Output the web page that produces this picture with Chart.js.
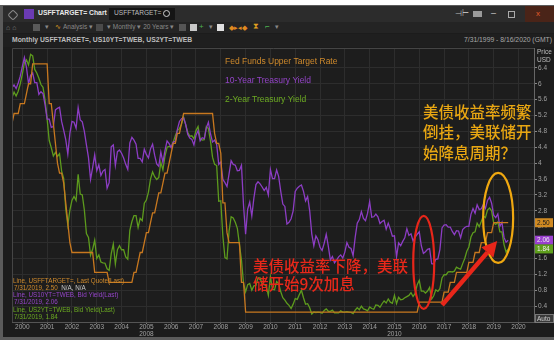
<!DOCTYPE html>
<html>
<head>
<meta charset="utf-8">
<script src="https://cdn.jsdelivr.net/npm/chart.js@4.4.0/dist/chart.umd.min.js"></script>
<style>
html,body{margin:0;padding:0;background:#fff;}
#wrap{position:relative;width:554px;height:346px;overflow:hidden;background:#fff;font-family:"Liberation Sans",Arial,sans-serif;}
#frame{position:absolute;left:0;top:5px;width:554px;height:335px;background:#5b5b5b;}
#win{position:absolute;left:3px;top:6px;width:551px;height:331px;background:#1c1c1c;}
#titlebar{position:absolute;left:3px;top:6px;width:551px;height:16px;background:#2c2c2c;}
#toolbar{position:absolute;left:3px;top:22px;width:551px;height:11px;background:#242424;}
#header{position:absolute;left:3px;top:34px;width:551px;height:13px;background:#1f1f1f;}
.t{position:absolute;white-space:nowrap;line-height:1;}
.box{position:absolute;}
canvas{position:absolute;left:0;top:0;}
</style>
</head>
<body>
<div id="wrap">
  <div id="frame"></div>
  <div id="win"></div>
  <div id="titlebar">
    <div class="box" style="left:6px;top:5px;width:6px;height:6px;border:1px solid #8a8a8a;border-radius:2px;transform:rotate(45deg);"></div>
    <div class="box" style="left:21px;top:3px;width:10px;height:10px;background:#6b3bb4;"></div>
    <div class="t" style="left:35px;top:4px;font-size:6.8px;font-weight:bold;color:#e8e8e8;">USFFTARGET= Chart</div>
    <div class="box" style="left:106px;top:2px;width:66px;height:12px;background:#151515;"></div>
    <div class="t" style="left:111px;top:4px;font-size:6.6px;color:#bdbdbd;">USFFTARGET=</div>
    <div class="box" style="left:160px;top:4px;width:5px;height:5px;border:1.3px solid #d0d0d0;border-radius:50%;"></div>
    <div class="t" style="left:452px;top:4px;font-size:8px;color:#bbb;">⊣⊢</div>
    <div class="box" style="left:470px;top:5px;width:9px;height:6px;background:#9a9a9a;"></div>
    <div class="t" style="left:488px;top:3px;font-size:9px;color:#ccc;">–</div>
    <div class="box" style="left:505px;top:5px;width:5px;height:5px;border:1px solid #aaa;"></div>
    <div class="box" style="left:522px;top:0px;width:29px;height:16px;background:#4a2418;"></div>
    <div class="t" style="left:533px;top:4px;font-size:8px;color:#e05a2a;">x</div>
  </div>
  <div id="toolbar">
    <div class="t" style="left:3px;top:2px;font-size:7px;color:#777;">⌂ ⌂</div>
    <div class="box" style="left:30px;top:2px;width:7px;height:7px;background:#5a5a5a;"></div>
    <div class="t" style="left:42px;top:2px;font-size:6.5px;color:#888;">▾</div>
    <div class="t" style="left:52px;top:2px;font-size:6.5px;color:#e0a020;">∿</div>
    <div class="t" style="left:60px;top:2px;font-size:6.5px;color:#888;">Analysis ▾</div>
    <div class="box" style="left:93px;top:2px;width:7px;height:7px;background:#4a4a4a;"></div>
    <div class="t" style="left:104px;top:2px;font-size:6.5px;color:#888;">▾ Monthly ▾ 20 Years ▾</div>
    <div class="box" style="left:176px;top:2px;width:7px;height:7px;background:#555;"></div>
    <div class="box" style="left:187px;top:2px;width:7px;height:7px;background:#c8c8c8;"></div>
    <div class="t" style="left:196px;top:1px;font-size:8px;color:#4caf50;">+</div>
    <div class="t" style="left:206px;top:2px;font-size:6.5px;color:#888;">▾</div>
    <div class="box" style="left:214px;top:2px;width:7px;height:7px;background:#e0e0e0;"></div>
    <div class="t" style="left:226px;top:2px;font-size:7px;color:#e08a20;">◆▸◂◆</div>
    <div class="t" style="left:250px;top:1px;font-size:8px;color:#e0a020;">⧗</div>
    <div class="t" style="left:262px;top:1px;font-size:8px;color:#4caf50;">⌐</div>
    <div class="t" style="left:272px;top:2px;font-size:6.5px;color:#888;">▾</div>
  </div>
  <div id="header">
    <div class="t" style="left:9px;top:3px;font-size:6.8px;font-weight:bold;color:#bdbdbd;">Monthly USFFTARGET=, US10YT=TWEB, US2YT=TWEB</div>
    <div class="t" style="right:2px;top:3px;font-size:6.8px;color:#a8a8a8;">7/31/1999 - 8/16/2020 (GMT)</div>
  </div>
  <canvas id="c" width="554" height="346"></canvas>
</div>
<script>
// Monthly series, July 1999 through July 2019 (month-end values, %)
const firstYear = 1999;
const firstMonth = 7;

const fedFundsUpper = [
  5.00,5.25,5.25,5.25,5.50,5.50,
  5.50,5.75,6.00,6.00,6.50,6.50,6.50,6.50,6.50,6.50,6.50,6.50,
  5.50,5.50,5.00,4.50,4.00,3.75,3.75,3.50,3.00,2.50,2.00,1.75,
  1.75,1.75,1.75,1.75,1.75,1.75,1.75,1.75,1.75,1.75,1.25,1.25,
  1.25,1.25,1.25,1.25,1.25,1.00,1.00,1.00,1.00,1.00,1.00,1.00,
  1.00,1.00,1.00,1.00,1.00,1.25,1.25,1.50,1.75,1.75,2.00,2.25,
  2.25,2.50,2.75,2.75,3.00,3.25,3.25,3.50,3.75,3.75,4.00,4.25,
  4.50,4.50,4.75,4.75,5.00,5.25,5.25,5.25,5.25,5.25,5.25,5.25,
  5.25,5.25,5.25,5.25,5.25,5.25,5.25,5.25,4.75,4.50,4.50,4.25,
  3.00,3.00,2.25,2.00,2.00,2.00,2.00,2.00,2.00,1.00,1.00,0.25,
  0.25,0.25,0.25,0.25,0.25,0.25,0.25,0.25,0.25,0.25,0.25,0.25,
  0.25,0.25,0.25,0.25,0.25,0.25,0.25,0.25,0.25,0.25,0.25,0.25,
  0.25,0.25,0.25,0.25,0.25,0.25,0.25,0.25,0.25,0.25,0.25,0.25,
  0.25,0.25,0.25,0.25,0.25,0.25,0.25,0.25,0.25,0.25,0.25,0.25,
  0.25,0.25,0.25,0.25,0.25,0.25,0.25,0.25,0.25,0.25,0.25,0.25,
  0.25,0.25,0.25,0.25,0.25,0.25,0.25,0.25,0.25,0.25,0.25,0.25,
  0.25,0.25,0.25,0.25,0.25,0.25,0.25,0.25,0.25,0.25,0.25,0.50,
  0.50,0.50,0.50,0.50,0.50,0.50,0.50,0.50,0.50,0.50,0.50,0.75,
  0.75,0.75,1.00,1.00,1.00,1.25,1.25,1.25,1.25,1.25,1.25,1.50,
  1.50,1.50,1.75,1.75,1.75,2.00,2.00,2.00,2.25,2.25,2.25,2.50,
  2.50,2.50,2.50,2.50,2.50,2.50,2.50
];

const tenYearYield = [
  5.90,5.97,5.88,6.02,6.19,6.44,
  6.66,6.41,6.00,6.21,6.27,6.03,6.03,5.73,5.80,5.75,5.47,5.11,
  5.11,4.90,4.92,5.34,5.38,5.41,5.05,4.83,4.59,4.23,4.75,5.05,
  5.03,4.88,5.40,5.09,5.04,4.80,4.46,4.14,3.59,3.89,4.21,3.81,
  3.96,3.69,3.80,3.84,3.37,3.51,4.41,4.46,3.94,4.29,4.33,4.25,
  4.13,3.97,3.84,4.51,4.65,4.58,4.48,4.12,4.12,4.03,4.35,4.22,
  4.13,4.36,4.48,4.20,3.98,3.92,4.28,4.02,4.32,4.56,4.49,4.39,
  4.53,4.55,4.85,5.05,5.12,5.14,4.98,4.73,4.63,4.60,4.46,4.70,
  4.82,4.56,4.64,4.62,4.89,5.03,4.74,4.53,4.58,4.47,3.97,4.03,
  3.59,3.51,3.41,3.73,4.06,3.97,3.95,3.81,3.82,3.95,2.93,2.21,
  2.84,3.02,2.67,3.12,3.46,3.53,3.48,3.40,3.31,3.39,3.20,3.84,
  3.61,3.61,3.83,3.66,3.29,2.97,2.91,2.47,2.51,2.60,2.80,3.29,
  3.37,3.42,3.45,3.29,3.05,3.16,2.80,2.22,1.92,2.17,2.07,1.88,
  1.80,1.98,2.21,1.91,1.56,1.65,1.49,1.56,1.64,1.69,1.61,1.76,
  2.00,1.88,1.85,1.67,2.13,2.49,2.58,2.78,2.61,2.55,2.74,3.03,
  2.64,2.65,2.72,2.65,2.48,2.53,2.56,2.34,2.49,2.34,2.16,2.17,
  1.64,1.99,1.92,2.03,2.12,2.35,2.18,2.22,2.04,2.14,2.21,2.27,
  1.92,1.73,1.77,1.83,1.85,1.47,1.46,1.58,1.59,1.83,2.37,2.44,
  2.45,2.39,2.39,2.28,2.20,2.30,2.29,2.12,2.33,2.38,2.41,2.41,
  2.71,2.86,2.74,2.95,2.83,2.85,2.96,2.86,3.06,3.14,2.99,2.69,
  2.63,2.72,2.41,2.51,2.13,2.01,2.06
];

const twoYearYield = [
  5.65,5.79,5.69,5.81,6.00,6.24,
  6.53,6.60,6.47,6.74,6.70,6.36,6.27,6.14,5.98,5.91,5.59,5.11,
  4.57,4.39,4.18,4.27,4.17,4.24,3.80,3.62,2.85,2.44,2.82,3.06,
  3.16,3.06,3.72,3.22,3.20,2.82,2.23,2.13,1.68,1.83,2.06,1.60,
  1.69,1.51,1.49,1.48,1.34,1.30,1.72,1.96,1.46,1.82,1.92,1.82,
  1.82,1.64,1.58,2.31,2.53,2.68,2.68,2.38,2.61,2.55,2.99,3.07,
  3.27,3.60,3.78,3.66,3.59,3.64,4.02,3.83,4.18,4.40,4.42,4.40,
  4.53,4.69,4.82,4.87,4.98,5.16,4.97,4.78,4.68,4.69,4.61,4.82,
  4.92,4.62,4.58,4.59,4.92,4.87,4.56,4.15,3.97,3.94,3.04,3.05,
  2.16,1.62,1.59,2.29,2.65,2.62,2.51,2.36,1.96,1.56,0.97,0.76,
  0.94,0.97,0.80,0.91,0.92,1.11,1.11,0.96,0.95,0.90,0.67,1.14,
  0.82,0.81,1.02,0.97,0.76,0.61,0.55,0.47,0.42,0.34,0.45,0.59,
  0.57,0.69,0.80,0.61,0.45,0.46,0.36,0.20,0.25,0.24,0.25,0.24,
  0.22,0.29,0.33,0.27,0.27,0.30,0.23,0.23,0.23,0.28,0.25,0.25,
  0.26,0.25,0.24,0.21,0.30,0.36,0.31,0.40,0.33,0.31,0.28,0.38,
  0.34,0.32,0.43,0.42,0.37,0.46,0.53,0.48,0.58,0.50,0.47,0.67,
  0.46,0.62,0.56,0.57,0.61,0.64,0.67,0.74,0.64,0.72,0.94,1.05,
  0.78,0.78,0.73,0.78,0.87,0.58,0.66,0.81,0.77,0.84,1.11,1.19,
  1.19,1.26,1.27,1.26,1.28,1.38,1.35,1.33,1.47,1.60,1.78,1.89,
  2.14,2.25,2.27,2.49,2.40,2.53,2.67,2.63,2.82,2.87,2.80,2.49,
  2.46,2.52,2.27,2.27,1.95,1.76,1.84
];

const yearTicks = [2000,2001,2002,2003,2004,2005,2006,2007,2008,2009,2010,
                   2011,2012,2013,2014,2015,2016,2017,2018,2019,2020];
const yearSubLabels = {2005: '2008', 2015: '2010'};
const priceTicks = [0.4,0.8,1.2,1.6,2.0,2.4,2.8,3.2,3.6,4.0,4.4,4.8,5.2,5.6,6.0,6.4];
const seriesNames = ['Fed Funds Upper Target Rate', '10-Year Treasury Yield', '2-Year Treasury Yield'];
const quoteLines = ['Line, USFFTARGET=, Last Quote(Last)', 'Line, US10YT=TWEB, Bid Yield(Last)', 'Line, US2YT=TWEB, Bid Yield(Last)'];
const lastDate = '7/31/2019';

// month-end positions on a decimal-year axis
const monthX = fedFundsUpper.map((_, i) => {
  const m = firstMonth - 1 + i;
  return firstYear + Math.floor(m / 12) + ((m % 12) + 1) / 12;
});
const toPoints = arr => arr.map((v, i) => ({x: monthX[i], y: v}));

const COLORS = {
  ff: '#c8781f', ffText: '#cf8a2c',
  t10: '#8c3dc4', t10Text: '#9444c8',
  t2: '#5d9b1d', t2Text: '#6cab22'
};

const chartDecor = {
  id: 'chartDecor',
  beforeDraw(chart) {
    const {ctx, chartArea: a} = chart;
    ctx.save();
    ctx.fillStyle = '#1d1d1d';
    ctx.fillRect(a.left, a.top, a.right - a.left, a.bottom - a.top);
    ctx.restore();
  },
  afterDraw(chart) {
    const {ctx, chartArea: a, scales: {x, y}} = chart;
    ctx.save();
    // panel outline
    ctx.strokeStyle = '#454545';
    ctx.lineWidth = 1;
    ctx.beginPath();
    ctx.moveTo(a.left + 0.5, a.bottom);
    ctx.lineTo(a.left + 0.5, a.top + 0.5);
    ctx.lineTo(a.right, a.top + 0.5);
    ctx.stroke();

    // in-plot series names
    ctx.font = '8.5px "Liberation Sans", Arial, sans-serif';
    ctx.textBaseline = 'middle';
    ctx.textAlign = 'left';
    const legendColors = [COLORS.ffText, COLORS.t10Text, COLORS.t2Text];
    seriesNames.forEach((n, i) => {
      ctx.fillStyle = legendColors[i];
      ctx.fillText(n, 225, 62 + i * 19);
    });

    // last-quote block, lower left
    const lastVals = [fedFundsUpper, tenYearYield, twoYearYield].map(s => s[s.length - 1].toFixed(2));
    ctx.font = '6.3px "Liberation Sans", Arial, sans-serif';
    const infoColors = [COLORS.ffText, COLORS.t10Text, COLORS.t2Text];
    quoteLines.forEach((line, i) => {
      const yy = 281 + i * 14.6;
      ctx.fillStyle = infoColors[i];
      ctx.fillText(line, 13, yy);
      const first = lastDate + ', ' + lastVals[i];
      ctx.fillText(first, 14, yy + 7);
      if (i === 0) {
        const w = ctx.measureText(first + ', ').width;
        ctx.fillStyle = '#c8c8c8';
        ctx.fillText('N/A, N/A', 14 + w, yy + 7);
      }
    });

    // axis header
    ctx.font = '6.5px "Liberation Sans", Arial, sans-serif';
    ctx.fillStyle = '#bdbdbd';
    ctx.fillText('Price', a.right + 3, 52);
    ctx.fillText('USD', a.right + 3, 60);

    // last-value tags on the price axis
    const tags = [
      {v: fedFundsUpper[fedFundsUpper.length - 1], bg: '#d08a22', fg: '#1a1a1a'},
      {v: tenYearYield[tenYearYield.length - 1], bg: '#9a3fd0', fg: '#eee'},
      {v: twoYearYield[twoYearYield.length - 1], bg: '#5e9e1c', fg: '#eee'}
    ];
    tags.forEach(t => {
      const py = y.getPixelForValue(t.v);
      ctx.fillStyle = t.bg;
      ctx.fillRect(a.right + 1, py - 4.5, 18, 9);
      ctx.fillStyle = t.fg;
      ctx.fillText(t.v.toFixed(2), a.right + 3, py + 0.5);
    });
    // scale mode button
    ctx.fillStyle = '#3a3a3a';
    ctx.fillRect(a.right + 1, a.bottom - 8, 19, 9);
    ctx.strokeStyle = '#777';
    ctx.strokeRect(a.right + 1.5, a.bottom - 7.5, 18, 8);
    ctx.fillStyle = '#d0d0d0';
    ctx.fillText('Auto', a.right + 3, a.bottom - 3);

    // commentary: circled areas and arrow
    const ellipse = (cx, cy, rx, ry, color) => {
      ctx.beginPath();
      ctx.ellipse(x.getPixelForValue(cx), y.getPixelForValue(cy), rx, ry, 0, 0, Math.PI * 2);
      ctx.strokeStyle = color;
      ctx.lineWidth = 2.2;
      ctx.stroke();
    };
    ellipse(2016.18, 1.50, 10.5, 46.5, '#e8261a');
    ellipse(2019.18, 2.62, 15, 45, '#f0a810');

    const x0 = x.getPixelForValue(2016.92), y0 = y.getPixelForValue(0.43);
    const x1 = x.getPixelForValue(2019.14), y1 = y.getPixelForValue(2.04);
    const ang = Math.atan2(y1 - y0, x1 - x0);
    const headLen = 15, headW = 8;
    const bx = x1 - headLen * Math.cos(ang), by = y1 - headLen * Math.sin(ang);
    ctx.strokeStyle = '#e8261a';
    ctx.lineWidth = 4.5;
    ctx.beginPath();
    ctx.moveTo(x0, y0);
    ctx.lineTo(bx, by);
    ctx.stroke();
    ctx.fillStyle = '#e8261a';
    ctx.beginPath();
    ctx.moveTo(x1, y1);
    ctx.lineTo(bx + headW * Math.sin(ang), by - headW * Math.cos(ang));
    ctx.lineTo(bx - headW * Math.sin(ang), by + headW * Math.cos(ang));
    ctx.closePath();
    ctx.fill();

    ctx.font = '500 15.5px "Noto Sans CJK SC", sans-serif';
    ctx.textBaseline = 'middle';
    ctx.fillStyle = '#e8a612';
    ['美债收益率频繁', '倒挂，美联储开', '始降息周期？'].forEach((s, i) => ctx.fillText(s, 423, 112 + i * 20.5));
    ctx.fillStyle = '#e8281a';
    ['美债收益率下降，美联', '储开始9次加息'].forEach((s, i) => ctx.fillText(s, 253, 266 + i * 18));
    ctx.restore();
  }
};

new Chart(document.getElementById('c'), {
  type: 'line',
  data: {
    datasets: [
      {label: seriesNames[0], data: toPoints(fedFundsUpper), borderColor: COLORS.ff, borderWidth: 1.3, pointRadius: 0, tension: 0},
      {label: seriesNames[1], data: toPoints(tenYearYield), borderColor: COLORS.t10, borderWidth: 1.3, pointRadius: 0, tension: 0},
      {label: seriesNames[2], data: toPoints(twoYearYield), borderColor: COLORS.t2, borderWidth: 1.3, pointRadius: 0, tension: 0}
    ]
  },
  options: {
    responsive: false,
    animation: false,
    layout: {padding: {left: 12, top: 48, right: 0, bottom: 0}},
    plugins: {legend: {display: false}, tooltip: {enabled: false}},
    scales: {
      x: {
        type: 'linear',
        min: 1999 + 7 / 12,
        max: 2020 + 7.5 / 12,
        afterBuildTicks: s => { s.ticks = yearTicks.map(v => ({value: v})); },
        afterFit: s => { s.height = 24; },
        grid: {color: '#2d2d2d', tickLength: 2, tickColor: '#777'},
        border: {color: '#555'},
        ticks: {
          color: '#a0a0a0', padding: 0, maxRotation: 0, autoSkip: false,
          font: {size: 6.5, family: '"Liberation Sans", Arial, sans-serif', lineHeight: 1.05},
          callback: v => yearSubLabels[v] ? [String(v), yearSubLabels[v]] : String(v)
        }
      },
      y: {
        position: 'right',
        min: 0,
        max: 6.9,
        afterBuildTicks: s => { s.ticks = priceTicks.map(v => ({value: v})); },
        afterFit: s => { s.width = 20; },
        grid: {color: '#2d2d2d', tickLength: 3, tickColor: '#888'},
        border: {color: '#666'},
        ticks: {
          color: '#a0a0a0', padding: 1,
          font: {size: 6.5, family: '"Liberation Sans", Arial, sans-serif'},
          callback: v => String(Number(v.toFixed(1)))
        }
      }
    }
  },
  plugins: [chartDecor]
});
</script>
</body>
</html>
